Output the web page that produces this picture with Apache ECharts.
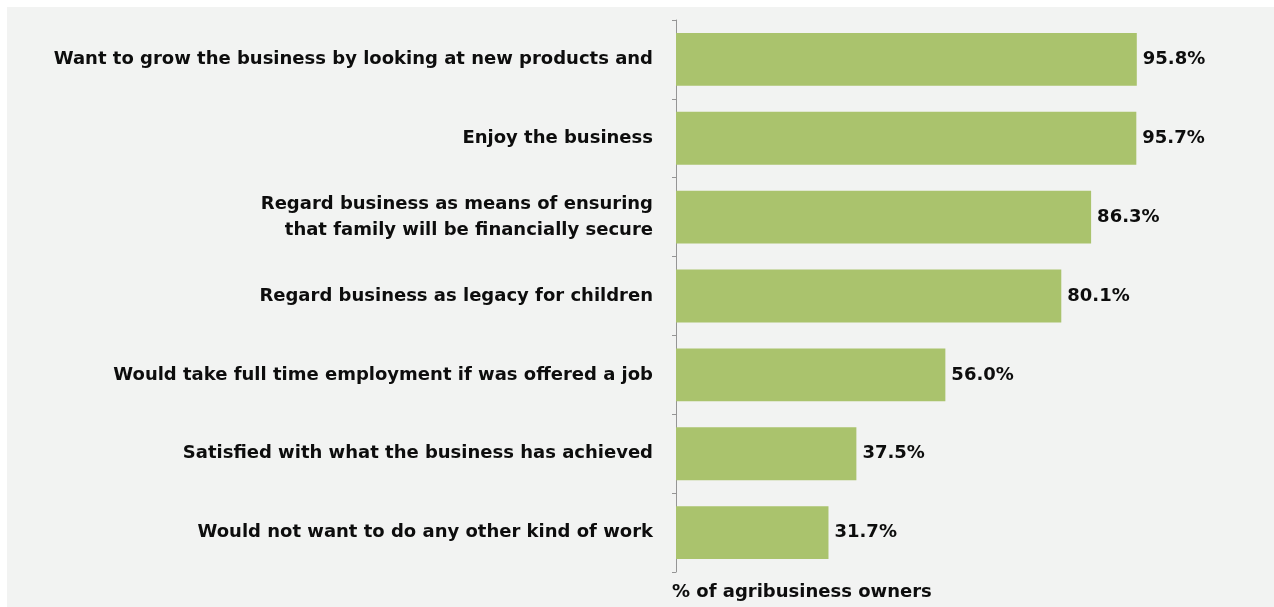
<!DOCTYPE html>
<html>
<head>
<meta charset="utf-8">
<style>
  html, body { margin: 0; padding: 0; background: #ffffff; }
  #chart { width: 1274px; height: 607px; }
</style>
<script src="https://cdn.jsdelivr.net/npm/echarts@6/dist/echarts.min.js"></script>
</head>
<body>
<div id="chart"></div>
<script>
// Attitudes of agribusiness owners towards their business
const categories = [
  'Want to grow the business by looking at new products and',
  'Enjoy the business',
  'Regard business as means of ensuring\nthat family will be financially secure',
  'Regard business as legacy for children',
  'Would take full time employment if was offered a job',
  'Satisfied with what the business has achieved',
  'Would not want to do any other kind of work'
];
const shares = [95.8, 95.7, 86.3, 80.1, 56.0, 37.5, 31.7];
const axisTitle = '% of agribusiness owners';

const FONT = '"DejaVu Sans", "Liberation Sans", Arial, sans-serif';
const chart = echarts.init(document.getElementById('chart'), null, { renderer: 'canvas' });

chart.setOption({
  backgroundColor: '#ffffff',
  animation: false,
  graphic: [{
    type: 'rect',
    z: -10,
    silent: true,
    shape: { x: 7, y: 7, width: 1267, height: 600 },
    style: { fill: '#f2f3f2' }
  }],
  title: {
    text: axisTitle,
    left: 672,
    top: 583,
    padding: 0,
    textStyle: { fontFamily: FONT, fontSize: 18, fontWeight: 'bold', color: '#0d0d0d' }
  },
  grid: { left: 676, top: 20, width: 481, height: 552, containLabel: false },
  xAxis: {
    type: 'value',
    min: 0,
    max: 100,
    show: false
  },
  yAxis: {
    type: 'category',
    inverse: true,
    data: categories,
    axisLine: { show: true, lineStyle: { color: '#959595', width: 1 } },
    axisTick: { show: true, length: 4, inside: false, lineStyle: { color: '#959595' } },
    axisLabel: {
      margin: 23,
      fontFamily: FONT,
      fontSize: 18,
      fontWeight: 'bold',
      color: '#0d0d0d',
      lineHeight: 26,
      align: 'right'
    },
    splitLine: { show: false }
  },
  series: [{
    type: 'bar',
    data: shares,
    barCategoryGap: '33%',
    itemStyle: { color: '#aac36d' },
    label: {
      show: true,
      position: 'right',
      distance: 6,
      fontFamily: FONT,
      fontSize: 18,
      fontWeight: 'bold',
      color: '#0d0d0d',
      formatter: p => p.value.toFixed(1) + '%'
    }
  }]
});
</script>
</body>
</html>
